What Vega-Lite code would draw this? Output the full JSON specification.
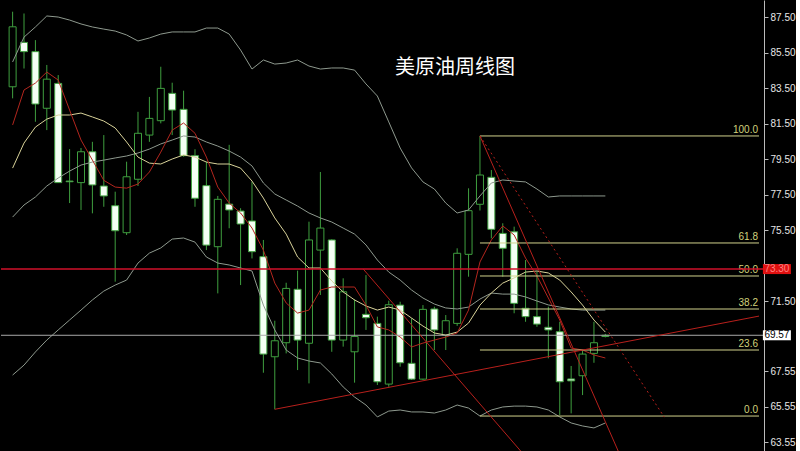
{
  "$schema": "https://vega.github.io/schema/vega-lite/v6.json",
  "width": 763,
  "height": 451,
  "padding": 0,
  "background": "#000000",
  "config": {"view": {"stroke": null}, "axis": {"grid": false}},
  "datasets": {
    "candles": [
      {"i":0,"o":83.57,"h":87.8,"l":82.92,"c":86.95},
      {"i":1,"o":86.07,"h":87.7,"l":84.6,"c":85.55},
      {"i":2,"o":85.55,"h":86.2,"l":81.6,"c":82.6},
      {"i":3,"o":82.36,"h":84.8,"l":81.13,"c":84.0},
      {"i":4,"o":83.76,"h":84.23,"l":78.15,"c":78.17},
      {"i":5,"o":78.26,"h":80.06,"l":77.02,"c":78.22},
      {"i":6,"o":78.17,"h":80.12,"l":76.63,"c":79.91},
      {"i":7,"o":79.91,"h":80.47,"l":76.44,"c":78.04},
      {"i":8,"o":77.98,"h":80.85,"l":76.81,"c":77.42},
      {"i":9,"o":76.87,"h":77.66,"l":72.59,"c":75.46},
      {"i":10,"o":75.35,"h":79.35,"l":75.22,"c":78.5},
      {"i":11,"o":78.36,"h":82.16,"l":77.98,"c":80.95},
      {"i":12,"o":80.85,"h":83.0,"l":80.47,"c":81.79},
      {"i":13,"o":81.66,"h":84.7,"l":81.51,"c":83.48},
      {"i":14,"o":83.2,"h":83.8,"l":80.85,"c":82.26},
      {"i":15,"o":82.3,"h":83.35,"l":79.63,"c":79.69},
      {"i":16,"o":79.69,"h":80.05,"l":76.81,"c":77.29},
      {"i":17,"o":78.0,"h":79.35,"l":74.37,"c":74.65},
      {"i":18,"o":74.56,"h":77.42,"l":71.93,"c":77.23},
      {"i":19,"o":76.96,"h":80.3,"l":75.6,"c":76.63},
      {"i":20,"o":76.57,"h":76.73,"l":72.4,"c":75.84},
      {"i":21,"o":76.01,"h":78.22,"l":73.9,"c":74.28},
      {"i":22,"o":74.0,"h":74.94,"l":67.46,"c":68.51},
      {"i":23,"o":68.36,"h":70.39,"l":65.4,"c":69.26},
      {"i":24,"o":69.15,"h":72.53,"l":68.55,"c":72.21},
      {"i":25,"o":72.16,"h":73.21,"l":67.61,"c":69.3},
      {"i":26,"o":69.12,"h":75.97,"l":66.86,"c":74.94},
      {"i":27,"o":74.37,"h":78.77,"l":71.84,"c":75.61},
      {"i":28,"o":74.94,"h":74.98,"l":68.64,"c":69.3},
      {"i":29,"o":69.3,"h":72.78,"l":68.93,"c":72.02},
      {"i":30,"o":68.64,"h":71.6,"l":66.9,"c":69.5},
      {"i":31,"o":70.75,"h":72.96,"l":69.87,"c":70.56},
      {"i":32,"o":70.24,"h":70.62,"l":66.77,"c":66.95},
      {"i":33,"o":66.82,"h":71.52,"l":66.67,"c":71.29},
      {"i":34,"o":71.27,"h":71.46,"l":67.8,"c":68.02},
      {"i":35,"o":67.99,"h":70.53,"l":67.05,"c":67.1},
      {"i":36,"o":67.1,"h":71.27,"l":67.05,"c":71.03},
      {"i":37,"o":71.05,"h":71.18,"l":68.74,"c":69.87},
      {"i":38,"o":69.58,"h":70.71,"l":68.74,"c":70.39},
      {"i":39,"o":70.24,"h":74.47,"l":70.1,"c":74.19},
      {"i":40,"o":74.13,"h":77.85,"l":72.87,"c":76.59},
      {"i":41,"o":76.95,"h":80.8,"l":76.6,"c":78.6},
      {"i":42,"o":78.47,"h":78.88,"l":75.03,"c":75.54},
      {"i":43,"o":75.31,"h":75.88,"l":72.87,"c":74.47},
      {"i":44,"o":75.4,"h":75.69,"l":70.81,"c":71.37},
      {"i":45,"o":71.09,"h":73.81,"l":70.33,"c":70.62},
      {"i":46,"o":70.62,"h":73.15,"l":70.05,"c":70.2},
      {"i":47,"o":70.02,"h":71.18,"l":68.27,"c":69.87},
      {"i":48,"o":69.77,"h":70.33,"l":65.08,"c":66.95},
      {"i":49,"o":67.11,"h":67.84,"l":65.17,"c":67.0},
      {"i":50,"o":67.29,"h":68.74,"l":66.2,"c":68.51},
      {"i":51,"o":68.55,"h":70.33,"l":68.02,"c":69.15},
      {"i":52,"o":69.5,"h":69.65,"l":69.45,"c":69.57}
    ],
    "bands": [
      {"i":0,"up":84.97,"mid":76.23,"lo":67.33,"ma":78.99,"fast":81.42},
      {"i":1,"up":86.37,"mid":76.91,"lo":67.89,"ma":80.40,"fast":83.39},
      {"i":2,"up":86.94,"mid":77.36,"lo":68.63,"ma":81.30,"fast":83.78},
      {"i":3,"up":87.56,"mid":77.98,"lo":69.30,"ma":81.75,"fast":84.40},
      {"i":4,"up":87.50,"mid":78.43,"lo":69.87,"ma":81.98,"fast":83.95},
      {"i":5,"up":87.33,"mid":78.82,"lo":70.43,"ma":81.98,"fast":82.26},
      {"i":6,"up":87.11,"mid":79.16,"lo":70.99,"ma":82.09,"fast":80.57},
      {"i":7,"up":86.94,"mid":79.33,"lo":71.56,"ma":81.87,"fast":79.44},
      {"i":8,"up":86.82,"mid":79.44,"lo":72.06,"ma":81.64,"fast":78.30},
      {"i":9,"up":86.71,"mid":79.56,"lo":72.40,"ma":81.25,"fast":77.92},
      {"i":10,"up":86.49,"mid":79.67,"lo":72.68,"ma":80.46,"fast":77.86},
      {"i":11,"up":86.15,"mid":79.84,"lo":73.64,"ma":79.61,"fast":78.09},
      {"i":12,"up":86.32,"mid":80.06,"lo":74.20,"ma":79.27,"fast":78.77},
      {"i":13,"up":86.54,"mid":80.35,"lo":74.49,"ma":79.22,"fast":79.89},
      {"i":14,"up":86.66,"mid":80.57,"lo":74.99,"ma":79.50,"fast":81.13},
      {"i":15,"up":86.66,"mid":80.80,"lo":75.05,"ma":79.73,"fast":81.53},
      {"i":16,"up":86.66,"mid":80.74,"lo":74.82,"ma":79.61,"fast":80.95},
      {"i":17,"up":86.88,"mid":80.46,"lo":73.98,"ma":79.33,"fast":79.61},
      {"i":18,"up":86.88,"mid":80.23,"lo":73.64,"ma":79.22,"fast":77.92},
      {"i":19,"up":86.54,"mid":79.95,"lo":73.53,"ma":79.22,"fast":77.02},
      {"i":20,"up":85.64,"mid":79.61,"lo":73.36,"ma":78.99,"fast":76.46},
      {"i":21,"up":84.57,"mid":79.11,"lo":73.19,"ma":78.26,"fast":75.61},
      {"i":22,"up":85.08,"mid":78.15,"lo":71.27,"ma":77.30,"fast":74.37},
      {"i":23,"up":84.85,"mid":77.53,"lo":69.87,"ma":76.18,"fast":72.51},
      {"i":24,"up":84.91,"mid":77.19,"lo":68.74,"ma":75.27,"fast":71.39},
      {"i":25,"up":85.08,"mid":76.85,"lo":68.29,"ma":73.98,"fast":70.82},
      {"i":26,"up":84.74,"mid":76.46,"lo":68.12,"ma":73.36,"fast":70.99},
      {"i":27,"up":84.57,"mid":76.18,"lo":68.01,"ma":73.36,"fast":72.12},
      {"i":28,"up":84.63,"mid":75.95,"lo":67.39,"ma":72.63,"fast":72.29},
      {"i":29,"up":84.63,"mid":75.61,"lo":66.66,"ma":72.01,"fast":72.29},
      {"i":30,"up":84.51,"mid":75.27,"lo":66.09,"ma":71.56,"fast":72.29},
      {"i":31,"up":83.73,"mid":74.66,"lo":65.64,"ma":71.22,"fast":71.27},
      {"i":32,"up":83.05,"mid":73.81,"lo":64.97,"ma":70.99,"fast":70.04},
      {"i":33,"up":81.59,"mid":73.13,"lo":65.30,"ma":71.16,"fast":69.87},
      {"i":34,"up":80.12,"mid":72.68,"lo":65.36,"ma":70.99,"fast":69.47},
      {"i":35,"up":79.00,"mid":72.12,"lo":65.25,"ma":70.54,"fast":68.91},
      {"i":36,"up":78.21,"mid":71.67,"lo":65.25,"ma":70.09,"fast":69.13},
      {"i":37,"up":77.81,"mid":71.33,"lo":65.19,"ma":69.70,"fast":69.30},
      {"i":38,"up":77.02,"mid":71.11,"lo":65.36,"ma":69.58,"fast":69.47},
      {"i":39,"up":76.46,"mid":71.05,"lo":65.64,"ma":69.75,"fast":69.70},
      {"i":40,"up":76.63,"mid":71.16,"lo":65.47,"ma":70.26,"fast":70.99},
      {"i":41,"up":77.42,"mid":71.61,"lo":65.02,"ma":71.27,"fast":73.70},
      {"i":42,"up":78.15,"mid":71.95,"lo":65.36,"ma":71.95,"fast":74.94},
      {"i":43,"up":78.32,"mid":71.89,"lo":65.53,"ma":72.51,"fast":75.73},
      {"i":44,"up":78.26,"mid":71.89,"lo":65.58,"ma":72.80,"fast":75.22},
      {"i":45,"up":78.21,"mid":71.73,"lo":65.58,"ma":73.13,"fast":73.92},
      {"i":46,"up":77.81,"mid":71.50,"lo":65.53,"ma":73.19,"fast":72.91},
      {"i":47,"up":77.36,"mid":71.28,"lo":65.36,"ma":73.08,"fast":71.67},
      {"i":48,"up":77.42,"mid":71.16,"lo":64.97,"ma":72.68,"fast":70.43},
      {"i":49,"up":77.42,"mid":71.05,"lo":64.63,"ma":72.01,"fast":68.85},
      {"i":50,"up":77.42,"mid":70.99,"lo":64.46,"ma":71.27,"fast":68.74},
      {"i":51,"up":77.42,"mid":70.99,"lo":64.35,"ma":70.43,"fast":68.46},
      {"i":52,"up":77.42,"mid":70.99,"lo":64.63,"ma":69.75,"fast":68.29}
    ],
    "trend": [
      {"id":"support","i":23,"p":65.4},
      {"id":"support","i":65.48,"p":70.65},
      {"id":"fall1","i":41,"p":80.8},
      {"id":"fall1","i":54,"p":61.77},
      {"id":"fall2","i":30.76,"p":73.3},
      {"id":"fall2","i":45.5,"p":62.36}
    ],
    "dotted": [
      {"id":"fall3","i":41,"p":80.8},
      {"id":"fall3","i":57.17,"p":64.96}
    ],
    "fib": [
      {"lvl":"100.0","p":80.8},
      {"lvl":"61.8","p":74.77},
      {"lvl":"50.0","p":72.91},
      {"lvl":"38.2","p":71.05},
      {"lvl":"23.6","p":68.74},
      {"lvl":"0.0","p":65.02}
    ],
    "levels": [
      {"k":"res","p":73.3,"t":"73.30"},
      {"k":"cur","p":69.57,"t":"69.57"}
    ],
    "title": [
      {"t":"美原油周线图"}
    ]
  },
  "layer": [
    {
      "data": {"name": "candles"},
      "mark": {"type": "rule", "color": "#3f9f3f", "strokeWidth": 1},
      "encoding": {
        "x": {"field": "i", "type": "quantitative", "scale": {"domain": [-0.58, 65.48], "nice": false, "zero": false}, "axis": null},
        "y": {"field": "l", "type": "quantitative", "title": null,
              "scale": {"domain": [63.05, 88.46], "nice": false, "zero": false},
              "axis": {"orient": "right", "values": [63.55, 65.55, 67.55, 71.5, 75.5, 77.5, 79.5, 81.5, 83.5, 85.5, 87.5],
                       "format": ".2f", "title": null, "labelColor": "#e6e6e6", "labelFont": "Liberation Sans", "labelFontSize": 10,
                       "tickColor": "#bbbbbb", "tickSize": 4, "domainColor": "#bbbbbb", "labelPadding": 2,
                       "labelOverlap": false, "labelFlush": false}},
        "y2": {"field": "h"}
      }
    },
    {
      "data": {"name": "candles"},
      "mark": {"type": "bar", "size": 7, "stroke": "#3f9f3f", "strokeWidth": 1},
      "encoding": {
        "x": {"field": "i", "type": "quantitative", "axis": null},
        "y": {"field": "o", "type": "quantitative", "title": null},
        "y2": {"field": "c"},
        "fill": {"condition": {"test": "datum.c < datum.o", "value": "#f4fff4"}, "value": "#000000"}
      }
    },
    {
      "data": {"name": "bands"},
      "mark": {"type": "line", "color": "#8e998e", "strokeWidth": 1},
      "encoding": {"x": {"field": "i", "type": "quantitative", "axis": null}, "y": {"field": "up", "type": "quantitative", "title": null}}
    },
    {
      "data": {"name": "bands"},
      "mark": {"type": "line", "color": "#8e998e", "strokeWidth": 1},
      "encoding": {"x": {"field": "i", "type": "quantitative", "axis": null}, "y": {"field": "mid", "type": "quantitative", "title": null}}
    },
    {
      "data": {"name": "bands"},
      "mark": {"type": "line", "color": "#8e998e", "strokeWidth": 1},
      "encoding": {"x": {"field": "i", "type": "quantitative", "axis": null}, "y": {"field": "lo", "type": "quantitative", "title": null}}
    },
    {
      "data": {"name": "bands"},
      "mark": {"type": "line", "color": "#d9d39a", "strokeWidth": 1},
      "encoding": {"x": {"field": "i", "type": "quantitative", "axis": null}, "y": {"field": "ma", "type": "quantitative", "title": null}}
    },
    {
      "data": {"name": "bands"},
      "mark": {"type": "line", "color": "#b3261e", "strokeWidth": 1},
      "encoding": {"x": {"field": "i", "type": "quantitative", "axis": null}, "y": {"field": "fast", "type": "quantitative", "title": null}}
    },
    {
      "data": {"name": "fib"},
      "mark": {"type": "rule", "color": "#d2d28c", "strokeWidth": 1},
      "encoding": {
        "x": {"datum": 41, "type": "quantitative", "axis": null},
        "x2": {"datum": 65.48},
        "y": {"field": "p", "type": "quantitative", "title": null}
      }
    },
    {
      "data": {"name": "fib"},
      "mark": {"type": "text", "color": "#d2d27c", "font": "Liberation Sans", "fontSize": 10, "align": "right", "baseline": "bottom", "dx": -1, "dy": -1},
      "encoding": {
        "x": {"datum": 65.48, "type": "quantitative", "axis": null},
        "y": {"field": "p", "type": "quantitative", "title": null},
        "text": {"field": "lvl"}
      }
    },
    {
      "data": {"name": "levels"},
      "transform": [{"filter": "datum.k == 'cur'"}],
      "mark": {"type": "rule", "color": "#a8a8a8", "strokeWidth": 1},
      "encoding": {"y": {"field": "p", "type": "quantitative", "title": null}}
    },
    {
      "data": {"name": "levels"},
      "transform": [{"filter": "datum.k == 'res'"}],
      "mark": {"type": "rule", "color": "#d0102a", "strokeWidth": 1.5},
      "encoding": {"y": {"field": "p", "type": "quantitative", "title": null}}
    },
    {
      "data": {"name": "trend"},
      "mark": {"type": "line", "color": "#b8201c", "strokeWidth": 1, "clip": true},
      "encoding": {
        "x": {"field": "i", "type": "quantitative", "axis": null},
        "y": {"field": "p", "type": "quantitative", "title": null},
        "detail": {"field": "id"}
      }
    },
    {
      "data": {"name": "dotted"},
      "mark": {"type": "line", "color": "#b8201c", "strokeWidth": 1, "strokeDash": [2, 3], "clip": true},
      "encoding": {
        "x": {"field": "i", "type": "quantitative", "axis": null},
        "y": {"field": "p", "type": "quantitative", "title": null},
        "detail": {"field": "id"}
      }
    },
    {
      "data": {"name": "levels"},
      "mark": {"type": "tick", "orient": "horizontal", "size": 28, "thickness": 10, "opacity": 1},
      "encoding": {
        "x": {"datum": 67.05, "type": "quantitative", "axis": null},
        "y": {"field": "p", "type": "quantitative", "title": null},
        "color": {"condition": {"test": "datum.k == 'res'", "value": "#e01010"}, "value": "#ffffff"}
      }
    },
    {
      "data": {"name": "levels"},
      "mark": {"type": "text", "font": "Liberation Sans", "fontSize": 10, "align": "center", "baseline": "middle"},
      "encoding": {
        "x": {"datum": 67.05, "type": "quantitative", "axis": null},
        "y": {"field": "p", "type": "quantitative", "title": null},
        "text": {"field": "t"},
        "color": {"condition": {"test": "datum.k == 'res'", "value": "#ff8080"}, "value": "#000000"}
      }
    },
    {
      "data": {"name": "title"},
      "mark": {"type": "text", "font": "Noto Sans CJK SC", "fontSize": 20, "color": "#ffffff", "align": "center", "baseline": "middle"},
      "encoding": {
        "x": {"datum": 38.8, "type": "quantitative", "axis": null},
        "y": {"datum": 84.63, "type": "quantitative", "title": null},
        "text": {"field": "t"}
      }
    }
  ]
}
